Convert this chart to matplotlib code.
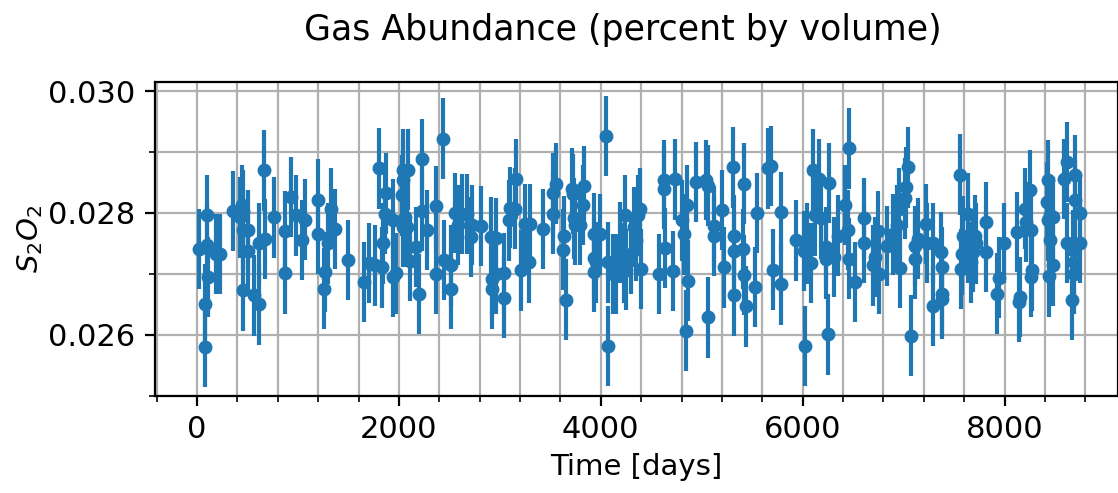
import numpy as np
import matplotlib
matplotlib.use("Agg")
import matplotlib.pyplot as plt
from matplotlib.ticker import MultipleLocator

days = [23, 98, 98, 108, 75, 82, 190, 223, 361, 426, 443, 459, 508, 459, 508, 459, 564, 613, 613, 672, 662,
        767, 872, 872, 931, 977, 1036, 1069, 1200, 1200, 1266, 1259, 1299, 1331, 1364, 1495,
        1656, 1708, 1764, 1830, 1846, 1807, 1872, 1862, 1938, 1938, 1971, 2043, 2092, 2043, 2026, 2059,
        2043, 2076, 2174, 2108, 2200, 2233, 2233, 2278, 2371, 2371, 2440,
        2449, 2515, 2515, 2557, 2590, 2630, 2679, 2712, 2728, 2810, 2908, 2958, 2925, 2925, 2958, 3040,
        3040, 3095, 3105, 3154, 3164, 3213, 3253,
        3285, 3295, 3426, 3525, 3525, 3557, 3633, 3623, 3656, 3711, 3721, 3731, 3744, 3797, 3820, 3836,
        3928, 3994, 3928, 3951, 3934, 4049, 4072, 4072,
        4121, 4154, 4187, 4236, 4226, 4253, 4302, 4331, 4351, 4367, 4384, 4400, 4580, 4630, 4630, 4640,
        4712, 4738, 4803, 4826, 4859, 4869, 4849, 4941,
        5040, 5063, 5117, 5117, 5063, 5200, 5223, 5307, 5316, 5316, 5406, 5416, 5416, 5316, 5439, 5529,
        5549, 5656, 5690, 5706, 5790, 5790,
        5933, 6017, 6040, 6083, 6023, 6107, 6160, 6127, 6183, 6227, 6233, 6266, 6306, 6256, 6350, 6416,
        6449, 6459, 6459, 6522, 6606, 6606,
        6693, 6717, 6760, 6750, 6837, 6893, 6937, 6950, 6960, 7017, 7027, 7043, 7070, 7110, 7110, 7143,
        7226, 7236, 7293, 7293, 7366, 7376, 7376, 7383,
        7561, 7587, 7577, 7567, 7643, 7643, 7666, 7708, 7718, 7692, 7816, 7816, 7921, 7947, 7994, 8125,
        8158, 8145, 8200, 8210, 8256, 8263, 8272, 8263,
        8433, 8417, 8427, 8450, 8483, 8450, 8483, 8440, 8617, 8593, 8700, 8700, 8750, 8617, 8750, 8683,
        8693, 8693, 8667]

abundance = [27.41, 27.96, 27.48, 26.95, 26.50, 25.81, 27.33, 27.33, 28.03, 27.93, 28.13, 28.04, 27.72,
             27.72, 27.38, 26.73, 26.65, 26.50, 27.50, 27.57, 28.70,
             27.93, 27.70, 27.01, 28.26, 27.96, 27.56, 27.89, 28.22, 27.66, 27.03, 26.76, 27.50, 28.07,
             27.74, 27.23,
             26.87, 27.18, 27.14, 27.11, 27.50, 28.73, 28.32, 27.99, 27.89, 26.95, 27.01, 28.71, 28.71,
             28.54, 28.29, 27.93, 27.77, 27.77, 27.44, 27.22, 26.67, 28.88, 28.04, 27.72, 28.11, 27.00, 29.22,
             27.23, 27.14, 26.76, 28.00, 27.80, 27.98, 27.98, 27.61, 27.80, 27.79, 27.61, 27.59, 26.92,
             26.76, 27.00, 27.01, 26.61, 27.88, 28.09, 28.07, 28.56, 27.06, 27.82,
             27.19, 27.82, 27.74, 27.99, 28.32, 28.48, 27.62, 27.40, 26.58, 28.40, 28.31, 27.91, 27.81,
             27.81, 28.13, 28.44, 27.66, 27.65, 27.27, 27.19, 27.03, 29.26, 27.19, 25.82,
             27.00, 27.00, 27.52, 27.96, 27.18, 27.07, 27.33, 27.77, 27.55, 27.96, 28.07, 27.08, 27.00,
             28.54, 28.40, 27.43, 27.05, 28.55, 27.88, 27.65, 28.13, 26.89, 26.07, 28.51,
             28.54, 28.45, 27.78, 27.62, 26.29, 28.05, 27.11, 28.75, 27.63, 27.38, 27.41, 28.48, 26.98,
             26.65, 26.47, 26.79, 28.00, 28.73, 28.77, 27.07, 28.02, 26.83,
             27.55, 27.38, 27.50, 27.18, 25.82, 28.71, 28.55, 27.96, 27.91, 27.44, 27.25, 28.49, 27.28,
             26.01, 27.63, 28.13, 27.72, 29.06, 27.25, 26.87, 27.91, 27.51,
             27.14, 27.28, 27.00, 27.70, 27.46, 27.65, 27.80, 28.07, 27.10, 28.24, 28.42, 28.75, 25.99,
             27.46, 27.25, 27.58, 27.82, 27.51, 27.51, 26.48, 27.36, 27.11, 26.67, 26.59,
             28.63, 27.62, 27.32, 27.08, 27.99, 27.52, 27.19, 27.63, 27.50, 27.36, 27.85, 27.36, 26.68,
             26.94, 27.51, 27.69, 26.62, 26.54, 28.07, 27.85, 28.37, 27.72, 27.06, 26.95,
             28.54, 28.18, 27.88, 27.96, 27.93, 27.56, 27.14, 26.96, 28.84, 28.56, 28.62, 28.21, 28.00,
             27.51, 27.51, 27.39, 27.19, 27.00, 26.58]

abundance = [a / 1000 for a in abundance]
error = 0.00066

fig = plt.figure(figsize=(5.59, 2.465), dpi=200)
ax = fig.add_axes([0.1386, 0.1968, 0.861, 0.6369])

ax.errorbar(days, abundance, yerr=error, fmt='.', ms=8, color='C0')

ax.set_xlim(-417, 9120)
ax.set_ylim(0.025, 0.030148)
ax.xaxis.set_major_locator(MultipleLocator(2000))
ax.xaxis.set_minor_locator(MultipleLocator(400))
ax.yaxis.set_major_locator(MultipleLocator(0.002))
ax.yaxis.set_minor_locator(MultipleLocator(0.001))
ax.grid(which='both')
ax.tick_params(labelsize=11)

ax.set_xlabel('Time [days]', fontsize=10.5, labelpad=3)
ax.set_ylabel(r'$S_2O_2$', fontsize=10.5, labelpad=1)
ax.set_title('Gas Abundance (percent by volume)', fontsize=12.5, pad=15, x=0.486)

fig.savefig('out.png', dpi=200)
